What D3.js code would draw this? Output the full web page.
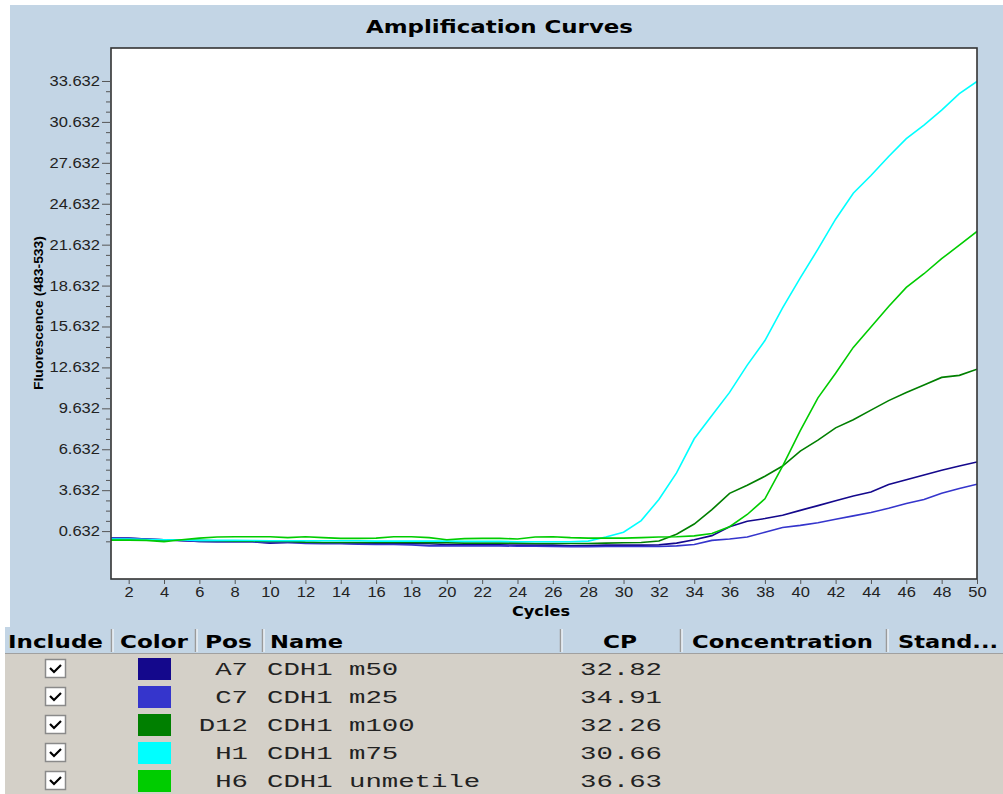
<!DOCTYPE html>
<html><head><meta charset="utf-8">
<script src="https://cdn.jsdelivr.net/npm/d3@7"></script>
<style>html,body{margin:0;padding:0;background:#fff;} svg{display:block}</style>
</head><body>
<svg id="c" width="1003" height="794"></svg>
<script>
// ---------- DATA ----------
const cycles = [1,2,3,4,5,6,7,8,9,10,11,12,13,14,15,16,17,18,19,20,21,22,23,24,25,26,27,28,29,30,31,32,33,34,35,36,37,38,39,40,41,42,43,44,45,46,47,48,49,50];
const positions = ["A7","C7","D12","H1","H6"];
const sampleNames = ["CDH1 m50","CDH1 m25","CDH1 m100","CDH1 m75","CDH1 unmetile"];
const cpValues = ["32.82","34.91","32.26","30.66","36.63"];
const seriesColors = ["#14088c","#3535cc","#007f00","#00ffff","#00cc00"];

const seriesA7 = [0.12,0.12,0.05,0.0,-0.08,-0.12,-0.15,-0.15,-0.15,-0.25,-0.2,-0.2,-0.22,-0.25,-0.28,-0.3,-0.3,-0.3,-0.3,-0.35,-0.35,-0.35,-0.38,-0.4,-0.4,-0.4,-0.45,-0.42,-0.4,-0.4,-0.4,-0.38,-0.25,0.0,0.3,0.95,1.35,1.55,1.8,2.15,2.5,2.85,3.2,3.5,4.05,4.4,4.75,5.1,5.4,5.7];
const seriesC7 = [0.12,0.1,0.05,0.0,-0.05,-0.12,-0.15,-0.15,-0.15,-0.2,-0.2,-0.28,-0.3,-0.3,-0.32,-0.35,-0.35,-0.38,-0.45,-0.45,-0.45,-0.45,-0.45,-0.48,-0.48,-0.5,-0.52,-0.52,-0.5,-0.5,-0.5,-0.5,-0.45,-0.35,-0.05,0.05,0.2,0.55,0.9,1.05,1.25,1.5,1.75,2.0,2.3,2.65,2.95,3.4,3.75,4.07];
const seriesD12 = [-0.03,-0.03,-0.03,-0.03,0.0,-0.05,-0.08,-0.1,-0.1,-0.12,-0.12,-0.18,-0.2,-0.2,-0.2,-0.2,-0.2,-0.2,-0.22,-0.22,-0.25,-0.25,-0.25,-0.25,-0.28,-0.28,-0.28,-0.28,-0.25,-0.22,-0.2,-0.1,0.4,1.15,2.2,3.4,4.0,4.65,5.4,6.5,7.3,8.2,8.8,9.5,10.2,10.8,11.35,11.9,12.05,12.5];
const seriesH1 = [0.05,0.05,0.02,0.0,-0.02,-0.05,-0.05,-0.05,-0.06,-0.08,-0.08,-0.08,-0.08,-0.08,-0.08,-0.1,-0.1,-0.1,-0.1,-0.1,-0.12,-0.12,-0.12,-0.15,-0.15,-0.15,-0.15,-0.1,0.2,0.55,1.4,2.95,4.9,7.4,9.1,10.8,12.8,14.6,17.0,19.2,21.3,23.5,25.4,26.7,28.1,29.4,30.4,31.5,32.7,33.6];
const seriesH6 = [-0.03,-0.03,-0.05,-0.15,0.0,0.12,0.2,0.22,0.22,0.22,0.15,0.22,0.15,0.1,0.1,0.12,0.22,0.22,0.15,0.0,0.08,0.1,0.1,0.05,0.2,0.22,0.15,0.12,0.12,0.12,0.15,0.2,0.22,0.28,0.46,0.95,1.85,3.0,5.4,8.0,10.4,12.2,14.1,15.6,17.1,18.5,19.5,20.6,21.6,22.6];

const yTickValues = [0.632,3.632,6.632,9.632,12.632,15.632,18.632,21.632,24.632,27.632,30.632,33.632];
const xTickValues = [2,4,6,8,10,12,14,16,18,20,22,24,26,28,30,32,34,36,38,40,42,44,46,48,50];
const tableHeaders = ["Include","Color","Pos","Name","CP","Concentration","Stand..."];

const seriesList = [seriesA7, seriesC7, seriesD12, seriesH1, seriesH6];

// ---------- LAYOUT ----------
const svg = d3.select("#c");
const panelBg = "#c3d5e5", bodyBg = "#d4d0c8";
const P = {l:111, r:977, t:48, b:579};

function stretch(sel, k){
  sel.each(function(){ const w=this.getComputedTextLength(); d3.select(this).attr("textLength", w*k).attr("lengthAdjust","spacingAndGlyphs"); });
}
function fit(sel, w){ sel.attr("textLength", w).attr("lengthAdjust","spacingAndGlyphs"); }

svg.append("rect").attr("x",10).attr("y",5).attr("width",993).attr("height",624).attr("fill",panelBg);
svg.append("rect").attr("x",5).attr("y",627).attr("width",998).attr("height",27).attr("fill",panelBg);
svg.append("rect").attr("x",5).attr("y",654).attr("width",998).attr("height",140).attr("fill",bodyBg);

// title
svg.append("text").attr("x",366).attr("y",33).text("Amplification Curves")
  .attr("font-family","DejaVu Sans").attr("font-weight","bold").attr("font-size",17).attr("fill","#000")
  .call(fit,267);

// plot area
svg.append("rect").attr("x",P.l).attr("y",P.t).attr("width",P.r-P.l).attr("height",P.b-P.t).attr("fill","#fff");

const x = d3.scaleLinear().domain([1,50]).range([P.l,P.r]);
const y = d3.scaleLinear().domain([-2.88,36.05]).range([P.b,P.t]);

svg.append("clipPath").attr("id","clip").append("rect").attr("x",P.l).attr("y",P.t).attr("width",P.r-P.l).attr("height",P.b-P.t);

const line = d3.line().x((d,i)=>x(cycles[i])).y(d=>y(d));
const gl = svg.append("g").attr("clip-path","url(#clip)");
seriesList.forEach((s,i)=>{
  gl.append("path").datum(s).attr("d",line).attr("fill","none").attr("stroke",seriesColors[i]).attr("stroke-width",1.6);
});

// frame
svg.append("rect").attr("x",P.l).attr("y",P.t).attr("width",P.r-P.l).attr("height",P.b-P.t)
  .attr("fill","none").attr("stroke","#333").attr("stroke-width",1.6);

// y axis
const minorTicks = d3.range(-0.118, 33.632, 0.75).filter(v=>yTickValues.every(t=>Math.abs(t-v)>0.01));
const yMinor = svg.append("g").attr("transform",`translate(${P.l},0)`)
  .call(d3.axisLeft(y).tickValues(minorTicks).tickSize(5).tickFormat(""));
yMinor.select(".domain").remove();
yMinor.selectAll("line").attr("stroke","#555");
const yAx = svg.append("g").attr("transform",`translate(${P.l},0)`)
  .call(d3.axisLeft(y).tickValues(yTickValues).tickSize(9).tickPadding(2).tickFormat(d=>d.toFixed(3)));
yAx.select(".domain").remove();
yAx.selectAll("line").attr("stroke","#555");
yAx.selectAll("text").attr("font-family","Liberation Sans").attr("font-size",14).attr("fill","#222").call(stretch,1.18);

// x axis
const xAx = svg.append("g").attr("transform",`translate(0,${P.b})`)
  .call(d3.axisBottom(x).tickValues(xTickValues).tickSize(5).tickPadding(3).tickFormat(d3.format("d")));
xAx.select(".domain").remove();
xAx.selectAll("line").attr("stroke","#555");
xAx.selectAll("text").attr("font-family","Liberation Sans").attr("font-size",14).attr("fill","#222").call(stretch,1.18);

svg.append("text").attr("x",512).attr("y",616).text("Cycles")
  .attr("font-family","DejaVu Sans").attr("font-weight","bold").attr("font-size",14).call(fit,58);

svg.append("text").attr("transform","translate(43,390) rotate(-90)").text("Fluorescence (483-533)")
  .attr("font-family","Liberation Sans").attr("font-weight","bold").attr("font-size",13).call(fit,154);

// ---------- TABLE ----------
const headerX = [8,120,205,270,603,692,898];
const headerW = [95,68,47,73,34,181,100];
const sepX = [111,195,262,560,680,886];
const hg = svg.append("g");
hg.selectAll("text").data(tableHeaders).join("text")
  .attr("x",(d,i)=>headerX[i]).attr("y",648).text(d=>d)
  .attr("font-family","DejaVu Sans").attr("font-weight","bold").attr("font-size",17).attr("fill","#000")
  .each(function(d,i){ d3.select(this).call(fit, headerW[i]); });
hg.selectAll("line.sep").data(sepX).join("line").attr("class","sep")
  .attr("x1",d=>d+0.5).attr("x2",d=>d+0.5).attr("y1",629).attr("y2",652).attr("stroke","#9a9a9a").attr("stroke-width",1.5);
hg.selectAll("line.sepw").data(sepX).join("line").attr("class","sepw")
  .attr("x1",d=>d+2).attr("x2",d=>d+2).attr("y1",629).attr("y2",652).attr("stroke","#fff").attr("stroke-width",1);
svg.append("line").attr("x1",5).attr("x2",1003).attr("y1",653.5).attr("y2",653.5).attr("stroke","#a0a0a0").attr("stroke-width",1.2);

const rowY = [669,697,725,753,781];
const rows = svg.append("g").selectAll("g").data(positions).join("g")
  .attr("transform",(d,i)=>`translate(0,${rowY[i]})`);
rows.append("rect").attr("x",45.5).attr("y",-9.5).attr("width",20).attr("height",18).attr("fill","#fff").attr("stroke","#8a8a8a").attr("stroke-width",1.5);
rows.append("path").attr("d","M50,-1 L54,3 L61,-4").attr("fill","none").attr("stroke","#000").attr("stroke-width",2.2);
rows.append("rect").attr("x",138).attr("y",-11).attr("width",33).attr("height",22).attr("fill",(d,i)=>seriesColors[i]);
const mono = {"font-family":"Liberation Mono","font-size":19,"fill":"#222"};
function applyMono(sel){ for(const k in mono) sel.attr(k,mono[k]); }
rows.append("text").attr("x",248).attr("y",6).attr("text-anchor","end").text(d=>d).call(applyMono)
  .each(function(d){ d3.select(this).call(fit, d.length*16.4); });
rows.append("text").attr("x",267).attr("y",6).text((d,i)=>sampleNames[i]).call(applyMono)
  .each(function(d,i){ d3.select(this).call(fit, sampleNames[i].length*16.4); });
rows.append("text").attr("x",580).attr("y",6).text((d,i)=>cpValues[i]).call(applyMono)
  .each(function(d,i){ d3.select(this).call(fit, cpValues[i].length*16.4); });
</script>
</body></html>
